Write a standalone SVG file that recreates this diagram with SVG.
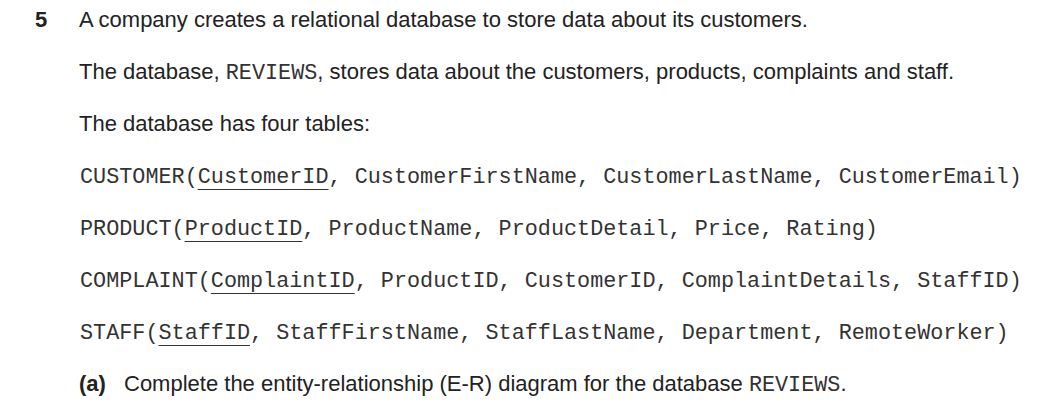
<svg xmlns="http://www.w3.org/2000/svg" width="1059" height="406" viewBox="0 0 1059 406">
<style>
.s{font-family:"Liberation Sans",Arial,sans-serif;font-size:22px;fill:#222}
.b{font-weight:bold}
.m{font-family:"Liberation Mono","Courier New",monospace;font-size:21.8px;fill:#333}
.u{stroke:#333;stroke-width:1.2}
</style>
<rect width="1059" height="406" fill="#fff"/>
<text class="s b" x="35" y="27">5</text>
<text class="s" x="79" y="27">A company creates a relational database to store data about its customers.</text>
<text class="s" x="79" y="79">The database, <tspan class="m">REVIEWS</tspan>, stores data about the customers, products, complaints and staff.</text>
<text class="s" x="79" y="131">The database has four tables:</text>
<text class="m" x="80" y="183">CUSTOMER(CustomerID, CustomerFirstName, CustomerLastName, CustomerEmail)</text>
<text class="m" x="80" y="235">PRODUCT(ProductID, ProductName, ProductDetail, Price, Rating)</text>
<text class="m" x="80" y="287">COMPLAINT(ComplaintID, ProductID, CustomerID, ComplaintDetails, StaffID)</text>
<text class="m" x="80" y="339">STAFF(StaffID, StaffFirstName, StaffLastName, Department, RemoteWorker)</text>
<line class="u" x1="197.7" y1="189.5" x2="328.5" y2="189.5"/>
<line class="u" x1="184.6" y1="241.5" x2="302.4" y2="241.5"/>
<line class="u" x1="210.8" y1="293.5" x2="354.7" y2="293.5"/>
<line class="u" x1="158.5" y1="345.5" x2="250" y2="345.5"/>
<text class="s b" x="79" y="391">(a)</text>
<text class="s" x="124" y="391">Complete the entity-relationship (E-R) diagram for the database <tspan class="m">REVIEWS</tspan>.</text>
</svg>
